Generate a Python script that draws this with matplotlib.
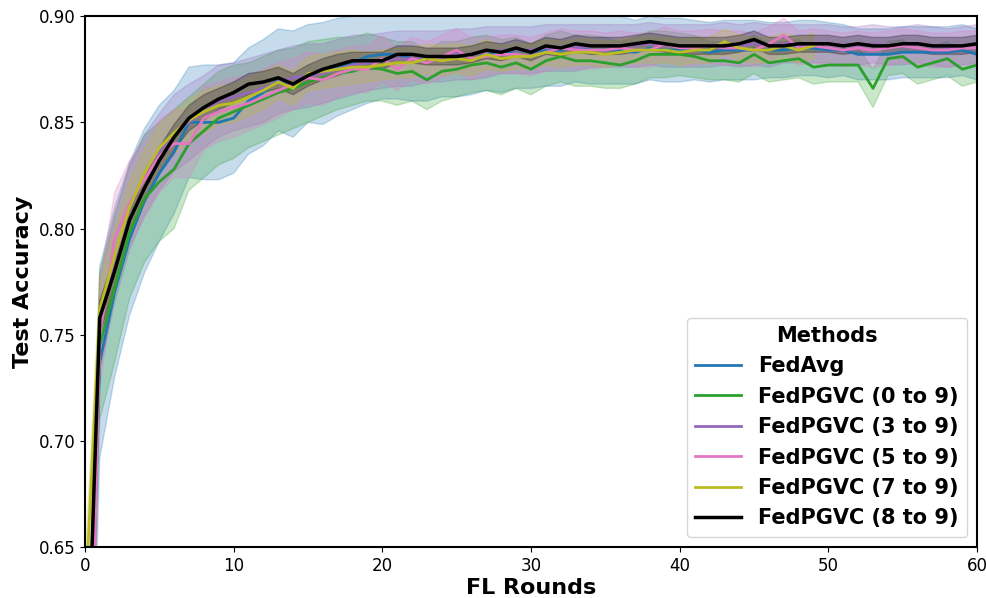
import matplotlib
matplotlib.use("Agg")
import matplotlib.pyplot as plt
import numpy as np

rounds = list(range(61))

labels = ["FedAvg", "FedPGVC (0 to 9)", "FedPGVC (3 to 9)",
          "FedPGVC (5 to 9)", "FedPGVC (7 to 9)", "FedPGVC (8 to 9)"]
colors = ["#1f77b4", "#2ca02c", "#9467bd", "#e377c2", "#bcbd22", "black"]

fedavg_mean = [0.50, 0.737, 0.770, 0.795, 0.813, 0.826, 0.836, 0.850, 0.850, 0.850,
               0.852, 0.860, 0.864, 0.870, 0.868, 0.873, 0.873, 0.876, 0.878, 0.881,
               0.882, 0.882, 0.880, 0.880, 0.881, 0.881, 0.882, 0.883, 0.882, 0.884,
               0.883, 0.884, 0.884, 0.885, 0.884, 0.884, 0.884, 0.883, 0.885, 0.884,
               0.884, 0.884, 0.883, 0.884, 0.884, 0.884, 0.884, 0.884, 0.885, 0.885,
               0.884, 0.884, 0.882, 0.882, 0.882, 0.883, 0.883, 0.883, 0.883, 0.884,
               0.882]
fedavg_std = [0.050, 0.045, 0.040, 0.036, 0.034, 0.032, 0.029, 0.026, 0.027, 0.027,
              0.026, 0.025, 0.025, 0.024, 0.025, 0.023, 0.024, 0.023, 0.022, 0.022,
              0.021, 0.021, 0.020, 0.020, 0.019, 0.019, 0.019, 0.018, 0.018, 0.018,
              0.017, 0.017, 0.017, 0.016, 0.016, 0.016, 0.016, 0.015, 0.015, 0.015,
              0.015, 0.014, 0.014, 0.014, 0.014, 0.014, 0.013, 0.013, 0.013, 0.013,
              0.013, 0.012, 0.012, 0.012, 0.012, 0.012, 0.012, 0.012, 0.012, 0.012,
              0.012]

g09_mean = [0.50, 0.745, 0.772, 0.798, 0.814, 0.822, 0.828, 0.840, 0.846, 0.852,
            0.855, 0.858, 0.861, 0.864, 0.866, 0.869, 0.871, 0.873, 0.874, 0.876,
            0.875, 0.873, 0.874, 0.870, 0.874, 0.875, 0.877, 0.878, 0.876, 0.878,
            0.875, 0.879, 0.881, 0.879, 0.879, 0.878, 0.877, 0.879, 0.882, 0.882,
            0.882, 0.881, 0.879, 0.879, 0.878, 0.882, 0.878, 0.879, 0.880, 0.876,
            0.877, 0.877, 0.877, 0.866, 0.880, 0.881, 0.876, 0.878, 0.880, 0.875,
            0.877]
g09_std = [0.040, 0.035, 0.035, 0.031, 0.030, 0.028, 0.028, 0.022, 0.022, 0.022,
           0.022, 0.020, 0.020, 0.020, 0.019, 0.019, 0.018, 0.017, 0.016, 0.016,
           0.015, 0.015, 0.014, 0.014, 0.014, 0.013, 0.013, 0.013, 0.013, 0.012,
           0.012, 0.012, 0.012, 0.012, 0.012, 0.012, 0.011, 0.011, 0.011, 0.011,
           0.010, 0.010, 0.009, 0.009, 0.009, 0.009, 0.009, 0.009, 0.009, 0.008,
           0.008, 0.008, 0.008, 0.009, 0.008, 0.008, 0.008, 0.008, 0.008, 0.008,
           0.008]

g39_mean = [0.50, 0.755, 0.785, 0.810, 0.825, 0.836, 0.845, 0.850, 0.855, 0.860,
            0.862, 0.864, 0.866, 0.869, 0.871, 0.872, 0.873, 0.875, 0.877, 0.878,
            0.879, 0.880, 0.880, 0.881, 0.881, 0.882, 0.882, 0.883, 0.884, 0.884,
            0.884, 0.885, 0.885, 0.885, 0.886, 0.886, 0.886, 0.886, 0.887, 0.886,
            0.886, 0.886, 0.886, 0.887, 0.886, 0.887, 0.886, 0.887, 0.887, 0.887,
            0.887, 0.886, 0.886, 0.887, 0.886, 0.886, 0.887, 0.886, 0.885, 0.886,
            0.887]
g39_std = [0.030, 0.022, 0.020, 0.020, 0.019, 0.018, 0.018, 0.018, 0.017, 0.017,
           0.016, 0.016, 0.016, 0.015, 0.015, 0.015, 0.014, 0.014, 0.014, 0.013,
           0.013, 0.013, 0.013, 0.012, 0.012, 0.012, 0.012, 0.012, 0.011, 0.011,
           0.011, 0.011, 0.011, 0.011, 0.010, 0.010, 0.010, 0.010, 0.010, 0.010,
           0.010, 0.010, 0.010, 0.010, 0.010, 0.010, 0.010, 0.009, 0.009, 0.009,
           0.009, 0.009, 0.009, 0.009, 0.009, 0.009, 0.009, 0.009, 0.009, 0.009,
           0.009]

g59_mean = [0.45, 0.750, 0.795, 0.812, 0.823, 0.834, 0.840, 0.840, 0.852, 0.855,
            0.857, 0.859, 0.862, 0.865, 0.868, 0.871, 0.870, 0.873, 0.875, 0.875,
            0.880, 0.875, 0.880, 0.878, 0.881, 0.884, 0.880, 0.881, 0.882, 0.882,
            0.881, 0.883, 0.885, 0.884, 0.884, 0.884, 0.885, 0.884, 0.884, 0.887,
            0.885, 0.885, 0.886, 0.885, 0.885, 0.884, 0.887, 0.891, 0.885, 0.886,
            0.885, 0.884, 0.885, 0.884, 0.885, 0.886, 0.885, 0.884, 0.884, 0.885,
            0.885]
g59_std = [0.030, 0.025, 0.022, 0.020, 0.018, 0.017, 0.016, 0.016, 0.015, 0.014,
           0.014, 0.013, 0.013, 0.013, 0.012, 0.012, 0.012, 0.011, 0.011, 0.011,
           0.011, 0.010, 0.010, 0.010, 0.010, 0.010, 0.010, 0.009, 0.009, 0.009,
           0.009, 0.009, 0.009, 0.009, 0.009, 0.008, 0.008, 0.008, 0.008, 0.008,
           0.008, 0.008, 0.008, 0.008, 0.008, 0.008, 0.008, 0.008, 0.008, 0.008,
           0.008, 0.008, 0.008, 0.008, 0.008, 0.008, 0.008, 0.008, 0.008, 0.008,
           0.008]

g79_mean = [0.62, 0.762, 0.787, 0.810, 0.826, 0.838, 0.845, 0.851, 0.855, 0.858,
            0.859, 0.862, 0.865, 0.869, 0.866, 0.873, 0.874, 0.875, 0.876, 0.876,
            0.877, 0.878, 0.878, 0.880, 0.879, 0.880, 0.879, 0.882, 0.880, 0.881,
            0.881, 0.883, 0.882, 0.883, 0.883, 0.882, 0.883, 0.884, 0.884, 0.884,
            0.883, 0.884, 0.884, 0.888, 0.885, 0.884, 0.884, 0.886, 0.884, 0.886]
g79_std = [0.020, 0.014, 0.013, 0.012, 0.011, 0.011, 0.010, 0.010, 0.010, 0.009,
           0.009, 0.009, 0.009, 0.008, 0.008, 0.008, 0.008, 0.008, 0.008, 0.007,
           0.007, 0.007, 0.007, 0.007, 0.007, 0.007, 0.007, 0.007, 0.006, 0.006,
           0.006, 0.006, 0.006, 0.006, 0.006, 0.006, 0.006, 0.006, 0.006, 0.006,
           0.006, 0.006, 0.006, 0.006, 0.006, 0.006, 0.006, 0.006, 0.006, 0.006]

g89_mean = [0.55, 0.758, 0.780, 0.804, 0.819, 0.832, 0.843, 0.852, 0.857, 0.861,
            0.864, 0.868, 0.869, 0.871, 0.868, 0.872, 0.875, 0.877, 0.879, 0.879,
            0.879, 0.882, 0.882, 0.881, 0.881, 0.881, 0.882, 0.884, 0.883, 0.885,
            0.883, 0.886, 0.885, 0.887, 0.886, 0.886, 0.886, 0.887, 0.888, 0.887,
            0.886, 0.886, 0.886, 0.886, 0.887, 0.889, 0.886, 0.886, 0.887, 0.887,
            0.887, 0.886, 0.887, 0.886, 0.886, 0.887, 0.887, 0.886, 0.886, 0.886,
            0.887]
g89_std = [0.015, 0.008, 0.007, 0.007, 0.007, 0.006, 0.006, 0.006, 0.006, 0.005,
           0.005, 0.005, 0.005, 0.005, 0.005, 0.005, 0.005, 0.005, 0.004, 0.004,
           0.004, 0.004, 0.004, 0.004, 0.004, 0.004, 0.004, 0.004, 0.004, 0.004,
           0.004, 0.004, 0.004, 0.004, 0.004, 0.004, 0.004, 0.004, 0.004, 0.004,
           0.004, 0.004, 0.004, 0.004, 0.004, 0.004, 0.004, 0.004, 0.004, 0.004,
           0.004, 0.004, 0.004, 0.004, 0.004, 0.004, 0.004, 0.004, 0.004, 0.004,
           0.004]

means = [fedavg_mean, g09_mean, g39_mean, g59_mean, g79_mean, g89_mean]
stds = [fedavg_std, g09_std, g39_std, g59_std, g79_std, g89_std]

fig = plt.figure(figsize=(9.87, 5.98), dpi=100)
ax = fig.add_axes([0.086, 0.085, 0.904, 0.888])

for lab, col, m, s in zip(labels, colors, means, stds):
    m = np.array(m)
    s = np.array(s)
    x = np.array(rounds[:len(m)])
    lw = 2.5 if col == "black" else 2.0
    ax.fill_between(x, m - s, m + s, color=col, alpha=0.25)
    ax.plot(x, m, color=col, lw=lw, label=lab)

ax.set_xlim(0, 60)
ax.set_ylim(0.65, 0.90)
ax.set_xticks([0, 10, 20, 30, 40, 50, 60])
ax.set_yticks([0.65, 0.70, 0.75, 0.80, 0.85, 0.90])
ax.set_yticklabels(["0.65", "0.70", "0.75", "0.80", "0.85", "0.90"])
ax.tick_params(labelsize=12)
for sp in ax.spines.values():
    sp.set_linewidth(1.5)
ax.set_xlabel("FL Rounds", fontsize=16, fontweight="bold", labelpad=2)
ax.set_ylabel("Test Accuracy", fontsize=16, fontweight="bold")

leg = ax.legend(loc="lower right", title="Methods",
                prop={"weight": "bold", "size": 15},
                title_fontproperties={"weight": "bold", "size": 15},
                handlelength=2.2, borderaxespad=0.5)

fig.savefig("out.png", dpi=100)
